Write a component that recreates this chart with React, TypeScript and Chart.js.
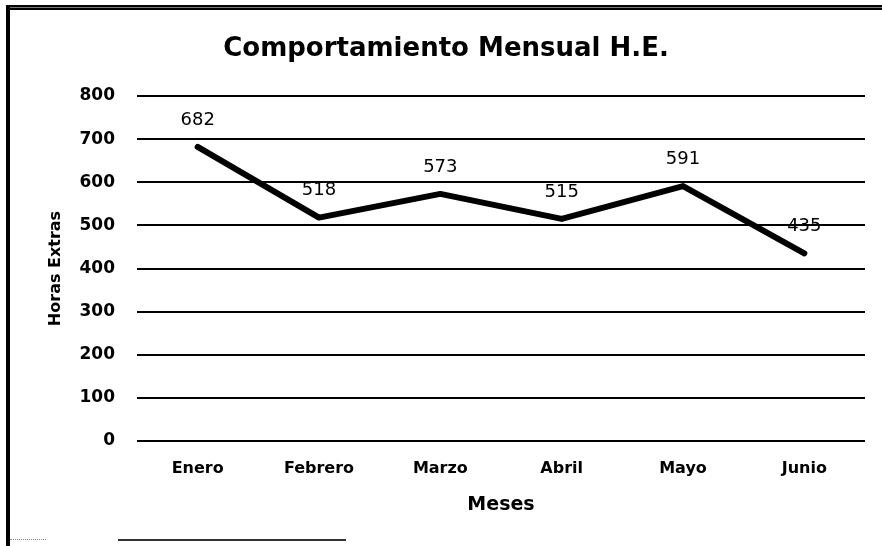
import React, { useEffect, useRef } from "react";
import { Chart, registerables } from "chart.js";

Chart.register(...registerables);

const months = ["Enero", "Febrero", "Marzo", "Abril", "Mayo", "Junio"];
const horasExtras = [682, 518, 573, 515, 591, 435];
const yMin = 0;
const yMax = 800;
const yStep = 100;

const chartTitle = "Comportamiento Mensual H.E.";
const xTitle = "Meses";
const yTitle = "Horas Extras";

const FONT = "'DejaVu Sans', sans-serif";

const valueLabels = {
  id: "valueLabels",
  afterDatasetsDraw(chart: any) {
    const ctx = chart.ctx;
    const meta = chart.getDatasetMeta(0);
    const data = chart.data.datasets[0].data as number[];
    ctx.save();
    ctx.font = `18px ${FONT}`;
    ctx.fillStyle = "#000";
    ctx.textAlign = "center";
    ctx.textBaseline = "middle";
    meta.data.forEach((pt: any, i: number) => {
      ctx.fillText(String(data[i]), pt.x, pt.y - 27);
    });
    ctx.restore();
  },
};

export default function App() {
  const canvasRef = useRef<HTMLCanvasElement | null>(null);

  useEffect(() => {
    document.body.style.margin = "0";
    const canvas = canvasRef.current;
    if (!canvas) return;
    const chart = new Chart(canvas, {
      type: "line",
      data: {
        labels: months,
        datasets: [
          {
            data: horasExtras,
            borderColor: "#000",
            backgroundColor: "#000",
            borderWidth: 6,
            pointRadius: 0,
            pointHoverRadius: 0,
            tension: 0,
            borderCapStyle: "round",
            borderJoinStyle: "round",
            fill: false,
          },
        ],
      },
      options: {
        animation: false,
        responsive: false,
        maintainAspectRatio: false,
        events: [],
        layout: { padding: { left: 27, right: 17, top: 0, bottom: 29.6 } },
        plugins: {
          legend: { display: false },
          tooltip: { enabled: false },
          title: {
            display: true,
            text: chartTitle,
            color: "#000",
            font: { family: FONT, size: 26, weight: "bold", lineHeight: 1.2 },
            padding: { top: 34, bottom: 30.8 },
          },
        },
        scales: {
          x: {
            offset: true,
            afterFit: (scale: any) => {
              scale.height = 75.4;
            },
            grid: { display: false, drawTicks: false },
            border: { display: false },
            ticks: {
              color: "#000",
              padding: 18,
              maxRotation: 0,
              font: { family: FONT, size: 16, weight: "bold" },
            },
            title: {
              display: true,
              text: xTitle,
              color: "#000",
              font: { family: FONT, size: 19, weight: "bold", lineHeight: 1.2 },
              padding: { top: 15.4, bottom: 0 },
            },
          },
          y: {
            min: yMin,
            max: yMax,
            afterFit: (scale: any) => {
              scale.width = 110;
            },
            grid: { color: "#000", lineWidth: 2, drawTicks: false },
            border: { display: false },
            ticks: {
              stepSize: yStep,
              color: "#000",
              padding: 22,
              font: { family: FONT, size: 17, weight: "bold" },
            },
            title: {
              display: true,
              text: yTitle,
              color: "#000",
              font: { family: FONT, size: 16, weight: "bold", lineHeight: 1.2 },
              padding: { top: 19.4, bottom: 0 },
            },
          },
        },
      },
      plugins: [valueLabels],
    });
    return () => chart.destroy();
  }, []);

  return (
    <div
      style={{
        position: "absolute",
        left: 0,
        top: 0,
        width: 882,
        height: 546,
        background: "#fff",
        overflow: "hidden",
      }}
    >
      <canvas ref={canvasRef} width={882} height={546} style={{ display: "block" }} />
      <div
        style={{
          position: "absolute",
          left: 6,
          top: 5,
          right: 0,
          height: 1,
          borderTop: "2px solid #000",
          borderBottom: "2px solid #000",
          background: "#777",
        }}
      />
      <div
        style={{
          position: "absolute",
          left: 6,
          top: 5,
          width: 4,
          bottom: 0,
          background: "#000",
        }}
      />
      <div
        style={{
          position: "absolute",
          left: 118,
          top: 539,
          width: 228,
          height: 2,
          background: "#333",
        }}
      />
      <div
        style={{
          position: "absolute",
          left: 10,
          top: 539,
          width: 36,
          height: 0,
          borderTop: "1px dotted #888",
        }}
      />
    </div>
  );
}
